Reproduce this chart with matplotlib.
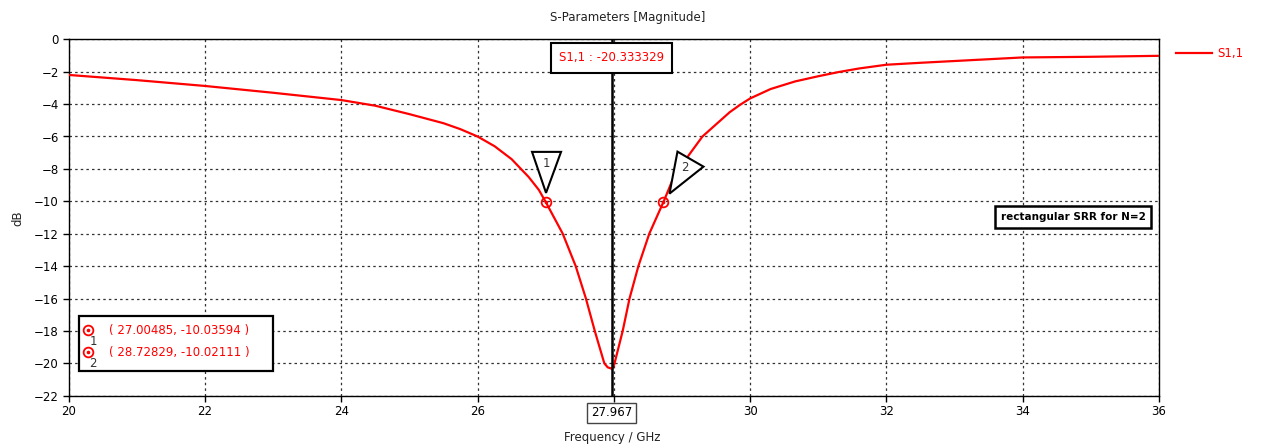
import matplotlib
matplotlib.use("Agg")
import matplotlib.pyplot as plt
from matplotlib.patches import Polygon, Rectangle
from matplotlib.lines import Line2D
from matplotlib.transforms import IdentityTransform

# S11 magnitude (dB) versus frequency (GHz)
freq_ghz = [20, 21, 22, 23, 24, 24.5, 25, 25.5, 25.75, 26, 26.25, 26.5, 26.75,
            26.9, 27.0, 27.25, 27.44, 27.59, 27.72, 27.86, 27.91, 27.967,
            27.99, 28.01, 28.13, 28.23, 28.36, 28.52, 28.73, 28.85, 29.1, 29.3,
            29.5, 29.7, 29.85, 30, 30.3, 30.66, 31, 31.3, 31.6, 32, 32.5, 33,
            34, 35, 36]
s11_db = [-2.2, -2.52, -2.88, -3.3, -3.75, -4.1, -4.62, -5.18, -5.55, -6.0,
          -6.6, -7.4, -8.5, -9.3, -10.04, -12, -14, -16, -18, -20, -20.25,
          -20.33, -20.25, -20, -18, -16, -14, -12, -10.02, -8.8, -7.15, -6.0,
          -5.25, -4.5, -4.05, -3.65, -3.07, -2.6, -2.28, -2.02, -1.8, -1.57,
          -1.45, -1.34, -1.12, -1.08, -1.02]

# Marker readouts
marker_ids = ["1", "2"]
marker_freq = [27.00485, 28.72829]
marker_db = [-10.03594, -10.02111]

# Cursor at the minimum
cursor_freq = 27.967
cursor_db = -20.333329

x_ticks = [20, 22, 24, 26, 28, 30, 32, 34, 36]
x_tick_labels = ["20", "22", "24", "26", "", "30", "32", "34", "36"]
y_ticks = [0, -2, -4, -6, -8, -10, -12, -14, -16, -18, -20, -22]

RED = "#ff0000"
W, H = 1262, 448

plt.rcParams["font.family"] = ["DejaVu Sans"]
fig = plt.figure(figsize=(W / 100, H / 100), dpi=100)
ax = fig.add_axes([68.7 / W, 1 - 395.7 / H, (1159 - 68.7) / W, (395.7 - 39.3) / H])

ax.plot(freq_ghz, s11_db, color=RED, lw=1.6, zorder=3)
ax.set_xlim(20, 36)
ax.set_ylim(-22, 0)
ax.set_xticks(x_ticks)
ax.set_xticklabels(x_tick_labels)
ax.set_yticks(y_ticks)
ax.tick_params(direction="out", length=4, width=1, labelsize=8.5,
               colors="black", pad=3)
ax.grid(True, color="#333333", linestyle=(0, (2, 2.5)), linewidth=0.9, zorder=1)
for s in ax.spines.values():
    s.set_linewidth(1.0)
    s.set_color("black")

fig.text(628 / W, 1 - 17 / H, "S-Parameters [Magnitude]", ha="center",
         va="center", fontsize=8.5, color="#222222")
fig.text(18 / W, 1 - 218 / H, "dB", ha="center", va="center", rotation=90,
         fontsize=8.5, color="#222222")
fig.text(612 / W, 1 - 437 / H, "Frequency / GHz", ha="center", va="center",
         fontsize=8.5, color="#222222")

# Cursor line with its value boxes
ax.axvline(cursor_freq, color="black", lw=1.8, zorder=4)
ax.text(cursor_freq, -1.15, f"S1,1 : {cursor_db:.6f}", ha="center", va="center",
        fontsize=8.5, color=RED, zorder=6,
        bbox=dict(boxstyle="square,pad=0.7", fc="white", ec="black", lw=1.5))
ax.annotate(f"{cursor_freq:.3f}", xy=(cursor_freq, -22), xycoords="data",
            xytext=(0, -17), textcoords="offset pixels", ha="center", va="center",
            fontsize=8.5, color="black", annotation_clip=False,
            bbox=dict(boxstyle="square,pad=0.3", fc="white", ec="#444444", lw=1))

# Marker circles
ax.plot(marker_freq, marker_db, linestyle="none", marker="o", ms=7, mfc="none",
        mec=RED, mew=1.3, zorder=5)
ax.plot(marker_freq, marker_db, linestyle="none", marker="o", ms=1.6, mfc=RED,
        mec=RED, zorder=5)

fig.canvas.draw()
tri_shapes = [
    [(-14, 50), (15, 50), (0, 9)],
    [(14, 50), (40, 35), (6, 8)],
]
label_offsets = [(0, 38), (21, 34)]
for mid, fx, fy, shape, lo in zip(marker_ids, marker_freq, marker_db,
                                  tri_shapes, label_offsets):
    px, py = ax.transData.transform((fx, fy))
    verts = [(px + dx, py + dy) for dx, dy in shape]
    fig.patches.append(Polygon(verts, closed=True, fc="white", ec="black",
                               lw=1.5, transform=IdentityTransform(), zorder=7,
                               figure=fig))
    fig.text((px + lo[0]) / W, (py + lo[1]) / H, mid, ha="center", va="center",
             fontsize=8.5, color="#333333", zorder=8)

# Annotation text box
ax.text(1073 / W, 1 - 217 / H, "rectangular SRR for N=2", transform=fig.transFigure,
        ha="center", va="center", fontsize=7.5, fontweight="bold", color="black",
        zorder=8,
        bbox=dict(boxstyle="square,pad=0.55", fc="white", ec="black", lw=1.8))

# Marker table
fig.patches.append(Rectangle((79 / W, 1 - 371 / H), (273.3 - 79) / W,
                             (371 - 315.7) / H, transform=fig.transFigure,
                             fc="white", ec="black", lw=1.6, zorder=7, figure=fig))
row_y = [330, 352.3]
for mid, fx, fy, ry in zip(marker_ids, marker_freq, marker_db, row_y):
    fig.add_artist(Line2D([88 / W], [1 - ry / H], marker="o", ms=7, mfc="none",
                          mec=RED, mew=1.3, transform=fig.transFigure, zorder=8))
    fig.add_artist(Line2D([88 / W], [1 - ry / H], marker="o", ms=1.6, mfc=RED,
                          mec=RED, transform=fig.transFigure, zorder=8))
    fig.text(93 / W, 1 - (ry + 11) / H, mid, ha="center", va="center",
             fontsize=8.5, color="#333333", zorder=8)
    fig.text(109 / W, 1 - ry / H, f"( {fx:.5f}, {fy:.5f} )", ha="left",
             va="center", fontsize=8.5, color=RED, zorder=8)

# Legend entry
fig.add_artist(Line2D([1176 / W, 1212 / W], [1 - 53 / H, 1 - 53 / H], color=RED,
                      lw=1.6, transform=fig.transFigure))
fig.text(1217 / W, 1 - 53 / H, "S1,1", ha="left", va="center", fontsize=8.5,
         color=RED)

fig.savefig("out.png", dpi=100)
